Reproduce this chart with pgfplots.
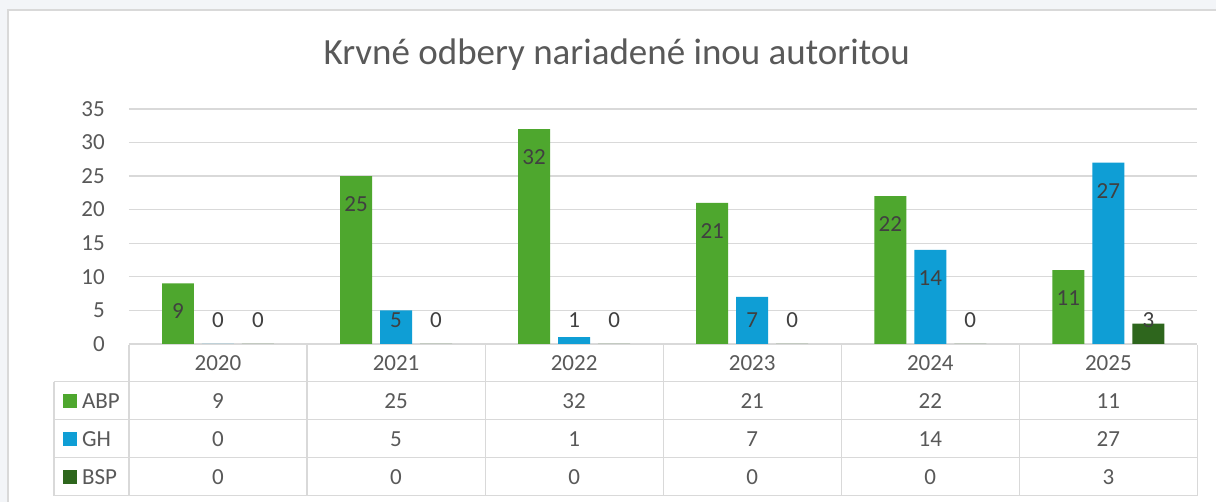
\documentclass[border=0pt]{standalone}
\usepackage{pgfplots}
\pgfplotsset{compat=1.18}
\usepackage{pgfplotstable}
\usepackage{fontspec}
\setmainfont{Carlito}

\definecolor{abp}{HTML}{4EA72E}
\definecolor{gh}{HTML}{0F9ED5}
\definecolor{bsp}{HTML}{2E661D}
\definecolor{txt}{HTML}{595959}
\definecolor{lbl}{HTML}{404040}
\definecolor{gridc}{HTML}{D9D9D9}
\definecolor{bgc}{HTML}{F3F5F8}

\newcommand\fs{\fontsize{23}{27}\selectfont}

% x = position, year, series values
\pgfplotstableread{
x year ABP GH BSP
0 2020 9  0  0
1 2021 25 5  0
2 2022 32 1  0
3 2023 21 7  0
4 2024 22 14 0
5 2025 11 27 3
}\data

\begin{document}
\begin{tikzpicture}[x=1pt,y=1pt]
% background and chart frame (pixel grid, y counted from the bottom)
\fill[bgc] (0,0) rectangle (1217,502);
\fill[white] (8,0) rectangle (1217,492);
\draw[gridc, line width=1.2pt] (8,0) -- (8,492) -- (1217,492);

\node[anchor=base, text=txt, font=\fontsize{37}{44}\selectfont] at (617,437)
  {Krvné odbery nariadené inou autoritou};

\begin{axis}[
  at={(129pt,158pt)}, anchor=south west,
  scale only axis, width=1069pt, height=235pt,
  ybar=8pt, bar width=32pt,
  xmin=-0.5, xmax=5.5, ymin=0, ymax=35,
  xtick=\empty, ytick={0,5,...,35},
  ymajorgrids, grid style={gridc, line width=1.2pt},
  axis line style={draw=none}, major tick length=0pt,
  /pgf/number format/assume math mode=true,
  yticklabel style={font=\fs, text=txt, inner sep=0pt, anchor=east, xshift=-24pt},
  nodes near coords,
  visualization depends on={rawy \as \ry},
  every node near coord/.append style={anchor=center, font=\fs, text=lbl,
    yshift={(max(\ry-4.17,3.57)-\ry)*6.714pt}},
]
\addplot[fill=abp, draw=none] table[x=x, y=ABP] {\data};
\addplot[fill=gh, draw=none] table[x=x, y=GH] {\data};
\addplot[fill=bsp, draw=none] table[x=x, y=BSP] {\data};
\end{axis}

% data table below the plot
\begin{scope}[gridc, line width=1.2pt]
  \draw (129,157) -- (1198,157);
  \foreach \yy in {120,82,44,6} \draw (54,\yy) -- (1198,\yy);
  \draw (54,120) -- (54,6);
  \foreach \k in {0,...,6} \draw ({129+178.1667*\k},157) -- ({129+178.1667*\k},6);
\end{scope}

\fill[abp] (63,94) rectangle (77,108);
\fill[gh]  (63,56) rectangle (77,70);
\fill[bsp] (63,18) rectangle (77,32);
\node[anchor=west, font=\fs, text=txt, inner sep=0pt] at (82,101) {ABP};
\node[anchor=west, font=\fs, text=txt, inner sep=0pt] at (82,63) {GH};
\node[anchor=west, font=\fs, text=txt, inner sep=0pt] at (82,25) {BSP};

\foreach \i in {0,...,5} {
  \pgfmathsetmacro\cx{129+178.1667*(\i+0.5)}
  \pgfplotstablegetelem{\i}{year}\of\data
  \node[font=\fs, text=txt] at (\cx,138.5) {\pgfplotsretval};
  \pgfplotstablegetelem{\i}{ABP}\of\data
  \node[font=\fs, text=txt] at (\cx,101) {\pgfplotsretval};
  \pgfplotstablegetelem{\i}{GH}\of\data
  \node[font=\fs, text=txt] at (\cx,63) {\pgfplotsretval};
  \pgfplotstablegetelem{\i}{BSP}\of\data
  \node[font=\fs, text=txt] at (\cx,25) {\pgfplotsretval};
}
\end{tikzpicture}
\end{document}
